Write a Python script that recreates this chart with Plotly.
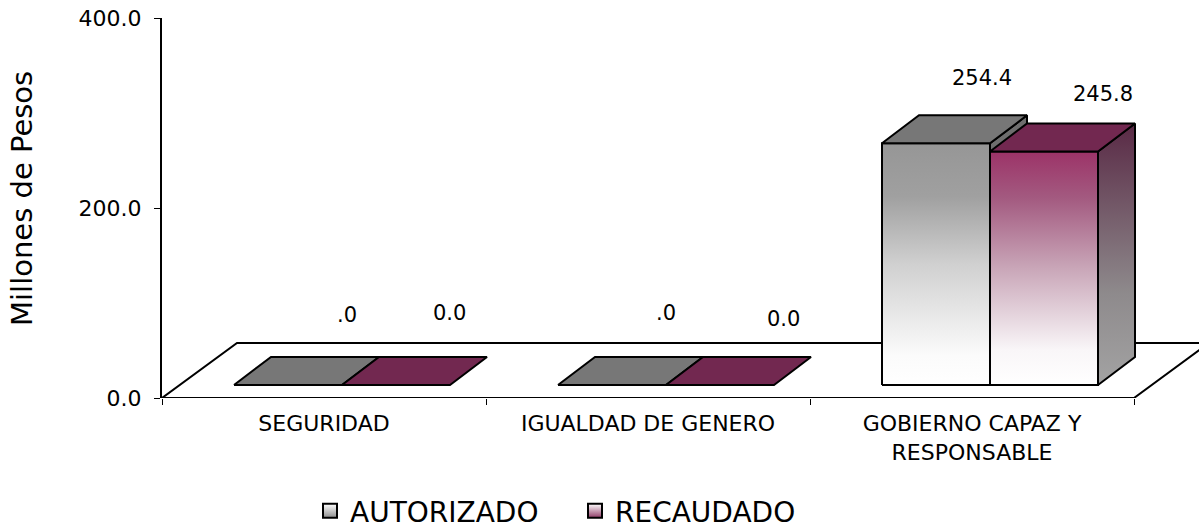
import plotly.graph_objects as go

categories = ["SEGURIDAD", "IGUALDAD DE GENERO", "GOBIERNO CAPAZ Y<br>RESPONSABLE"]
autorizado = [0.0, 0.0, 254.4]
recaudado = [0.0, 0.0, 245.8]
auto_labels = [".0", ".0", "254.4"]
reca_labels = ["0.0", "0.0", "245.8"]
y_ticks = [0, 200, 400]
y_tick_text = ["0.0", "200.0", "400.0"]

FONT = "'DejaVu Sans', sans-serif"
PX_X = 1 / 324.0   # category units per pixel
PX_Y = 1 / 0.95    # value units per pixel

BAR_W = 108 * PX_X
BAR_START = 72 * PX_X
BASE = 13 * PX_Y
BAR_DX, BAR_DY = 37 * PX_X, 28 * PX_Y
FLOOR_DX, FLOOR_DY = 75 * PX_X, 55 * PX_Y

fig = go.Figure()


def poly(xs, ys, fill=None, gradient=None):
    kw = dict(fillgradient=gradient) if gradient else dict(fillcolor=fill)
    fig.add_trace(go.Scatter(
        x=xs + xs[:1], y=ys + ys[:1], mode="lines", fill="toself",
        line=dict(color="#000000", width=2), cliponaxis=False,
        showlegend=False, hoverinfo="skip", **kw))


def vgrad(stops):
    return dict(type="vertical", colorscale=stops)


GRAY_FRONT = vgrad([[0, "#ffffff"], [0.12, "#fbfbfb"], [0.5, "#d0d0d0"], [0.78, "#a0a0a0"], [1, "#969696"]])
PURP_FRONT = vgrad([[0, "#ffffff"], [0.15, "#f9f6f8"], [0.5, "#c9a6b8"], [0.8, "#a35a80"], [1, "#9c3368"]])
SIDE_FRONT = vgrad([[0, "#a3a3a3"], [0.35, "#8e8a8c"], [1, "#592945"]])

# floor
poly([0, FLOOR_DX, 3 + FLOOR_DX, 3], [0, FLOOR_DY, FLOOR_DY, 0], fill="#ffffff")


def bar(left, value, top_col, side, front):
    r = left + BAR_W
    t = BASE + value
    if value > 0:
        if isinstance(side, str):
            poly([r, r + BAR_DX, r + BAR_DX, r], [BASE, BASE + BAR_DY, t + BAR_DY, t], fill=side)
        else:
            poly([r, r + BAR_DX, r + BAR_DX, r], [BASE, BASE + BAR_DY, t + BAR_DY, t], gradient=side)
        poly([left, r, r, left], [BASE, BASE, t, t], gradient=front)
    poly([left, r, r + BAR_DX, left + BAR_DX], [t, t, t + BAR_DY, t + BAR_DY], fill=top_col)


for i in range(len(categories)):
    bar(i + BAR_START, autorizado[i], "#777777", "#6e6e6e", GRAY_FRONT)
    bar(i + BAR_START + BAR_W, recaudado[i], "#722850", SIDE_FRONT, PURP_FRONT)

# legend entries
for name, colour in (("AUTORIZADO", "#8c8c8c"), ("RECAUDADO", "#8f3a66")):
    fig.add_trace(go.Scatter(
        x=[None], y=[None], mode="markers", name=name,
        marker=dict(symbol="square", size=14, color="#ffffff",
                    gradient=dict(type="vertical", color=colour),
                    line=dict(color="#000000", width=2))))

annotations = []
label_px = [(347, 315), (449, 313), (666, 313), (783, 319), (982, 78), (1103, 94)]
vals = []
for i in range(3):
    vals += [(i, autorizado[i], auto_labels[i]), (i, recaudado[i], reca_labels[i])]
for (i, v, txt), (px, py) in zip(vals, label_px):
    annotations.append(dict(
        x=i + 0.5, y=v, xref="x", yref="y", text=txt, showarrow=False,
        xshift=px - (162 + (i + 0.5) * 324), yshift=(398 - v * 0.95) - py,
        font=dict(family=FONT, size=21, color="#000000")))

annotations.append(dict(
    x=(22 - 162) / 1037, y=(398 - 199) / 380, xref="paper", yref="paper",
    xanchor="center", yanchor="middle",
    text="Millones de Pesos", textangle=-90, showarrow=False,
    font=dict(family=FONT, size=29, color="#000000")))

fig.update_layout(
    width=1199, height=529, autosize=False,
    margin=dict(l=162, r=0, t=18, b=131, autoexpand=False),
    paper_bgcolor="#ffffff", plot_bgcolor="#ffffff",
    font=dict(family=FONT, color="#000000"),
    annotations=annotations,
    legend=dict(orientation="h", x=(310 - 162) / 1037, xanchor="left", y=-0.232, yanchor="top",
                entrywidth=220, entrywidthmode="pixels", itemclick=False,
                font=dict(family=FONT, size=28), bgcolor="rgba(0,0,0,0)"),
    xaxis=dict(range=[0, 1037 / 324], tickmode="array", tickvals=[0.5, 1.5, 2.5], ticktext=categories,
               ticks="", showgrid=False, zeroline=False, showline=False,
               ticklabelstandoff=10, tickfont=dict(family=FONT, size=22), fixedrange=True,
               minor=dict(tickmode="array", tickvals=[0, 1, 2, 3], ticks="outside", ticklen=6, tickwidth=1,
                          tickcolor="#000000", showgrid=False)),
    yaxis=dict(range=[0, 400], tickmode="array", tickvals=y_ticks, ticktext=y_tick_text,
               ticks="outside", ticklen=6, tickwidth=1, tickcolor="#000000",
               showgrid=False, zeroline=False, showline=True, linecolor="#000000", linewidth=2,
               ticklabelstandoff=8, tickfont=dict(family=FONT, size=22), fixedrange=True),
)

fig.write_html("out.html", config={"displayModeBar": False},
               post_script="document.body.style.margin='0';")
